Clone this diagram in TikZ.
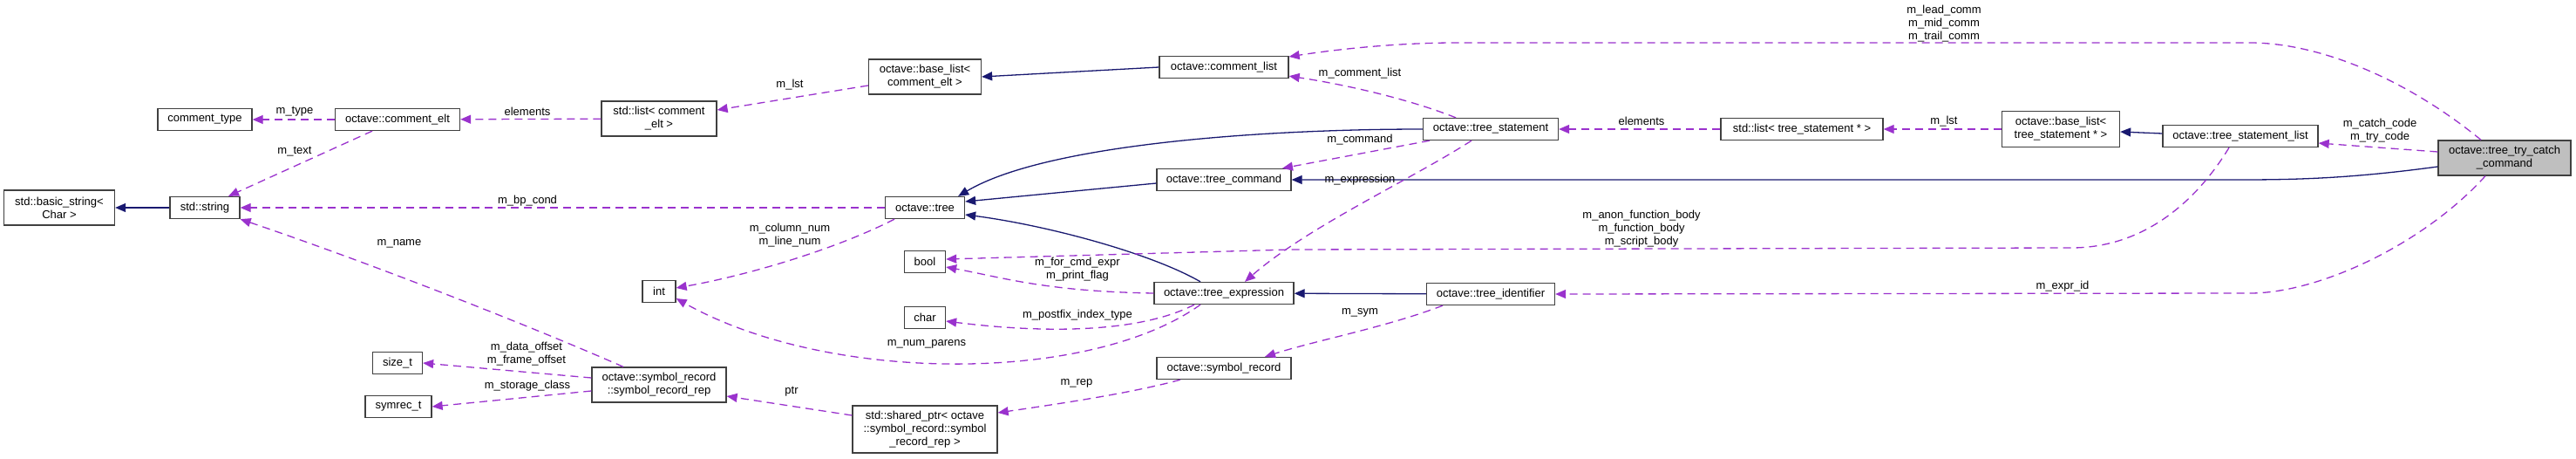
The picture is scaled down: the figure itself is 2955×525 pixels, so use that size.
\documentclass[tikz,border=0pt]{standalone}
\usepackage{fontspec}
\setmainfont{Liberation Sans}
\usetikzlibrary{arrows.meta}
\definecolor{inhcol}{RGB}{25,25,112}
\definecolor{memcol}{RGB}{154,50,205}
\tikzset{
  cls/.style={draw=black!75, line width=1.3pt, fill=white, align=center, inner sep=0pt, minimum height=25pt},
  clsfocus/.style={cls, fill=black!25},
  inh/.style={draw=inhcol, line width=1.3pt, -{Triangle[length=12pt,width=10pt]}},
  mem/.style={draw=memcol, line width=1.3pt, dash pattern=on 9pt off 6pt, -{Triangle[length=12pt,width=10pt]}},
  lbl/.style={inner sep=0pt, align=center, text=black}
}
\begin{document}
\begin{tikzpicture}[x=1pt,y=-1pt,font=\fontsize{13}{15}\selectfont]
\useasboundingbox (0,0) rectangle (2955,525);

\node[cls, minimum width=127pt, minimum height=40pt] (bstr) at (68,238) {std::basic\_string<\\Char >};
\node[cls, minimum width=80pt] (stdstr) at (235,238) {std::string};
\node[cls, minimum width=108pt] (ctype) at (235,137) {comment\_type};
\node[cls, minimum width=143pt] (celt) at (456,137) {octave::comment\_elt};
\node[cls, minimum width=57pt] (sizet) at (456,416) {size\_t};
\node[cls, minimum width=76pt] (symrec) at (457,466) {symrec\_t};
\node[cls, minimum width=154pt, minimum height=40pt] (rep) at (756,441) {octave::symbol\_record\\::symbol\_record\_rep};
\node[cls, minimum width=132pt, minimum height=40pt] (lstce) at (756,136) {std::list< comment\\\_elt >};
\node[cls, minimum width=38pt] (intn) at (756,334) {int};
\node[cls, minimum width=129pt, minimum height=40pt] (blce) at (1061,88) {octave::base\_list<\\comment\_elt >};
\node[cls, minimum width=91pt] (tree) at (1061,238) {octave::tree};
\node[cls, minimum width=47pt] (booln) at (1061,300) {bool};
\node[cls, minimum width=47pt] (charn) at (1061,364) {char};
\node[cls, minimum width=166pt, minimum height=54pt] (sptr) at (1061,492) {std::shared\_ptr< octave\\::symbol\_record::symbol\\\_record\_rep >};
\node[cls, minimum width=148pt] (clist) at (1404,77) {octave::comment\_list};
\node[cls, minimum width=154pt] (tcmd) at (1404,206) {octave::tree\_command};
\node[cls, minimum width=160pt] (texpr) at (1404,336) {octave::tree\_expression};
\node[cls, minimum width=154pt] (symrecd) at (1404,422) {octave::symbol\_record};
\node[cls, minimum width=155pt] (tstmt) at (1710,148) {octave::tree\_statement};
\node[cls, minimum width=147pt] (tident) at (1710,337) {octave::tree\_identifier};
\node[cls, minimum width=186pt] (lstts) at (2067,148) {std::list< tree\_statement * >};
\node[cls, minimum width=135pt, minimum height=41pt] (blts) at (2364,148) {octave::base\_list<\\tree\_statement * >};
\node[cls, minimum width=178pt] (tsl) at (2570,156) {octave::tree\_statement\_list};
\node[clsfocus, minimum width=152pt, minimum height=40pt] (trycatch) at (2873,181) {octave::tree\_try\_catch\\\_command};

\draw[inh] (stdstr) -- (bstr);
\draw[inh] (clist.west) -- (blce.east);
\draw[inh] (tstmt.west) .. controls (1450,148) and (1200,165) .. ([xshift=-8pt]tree.north east);
\draw[inh] ([yshift=-4pt]tcmd.west) -- ([yshift=7pt]tree.east);
\draw[inh] ([xshift=-27pt]texpr.north) .. controls (1320,290) and (1200,258) .. ([yshift=-8pt]tree.east);
\draw[inh] (tident) -- (texpr);
\draw[inh] ([yshift=3pt]tsl.west) -- ([yshift=-3pt]blts.east);
\draw[inh] ([yshift=-10pt]trycatch.west) .. controls (2700,204) and (2640,206) .. (2570,206) -- (tcmd.east);

\draw[mem] (celt) -- (ctype) node[lbl] (l-type) at (338,128) {m\_type};
\draw[mem] (lstce) -- (celt) node[lbl] (l-elce) at (605,128) {elements};
\draw[mem] ([yshift=-10pt]blce.west) -- ([yshift=10pt]lstce.east) node[lbl] (l-lstce) at (906,97) {m\_lst};
\draw[mem] ([xshift=-29pt]celt.south) -- ([xshift=27pt]stdstr.north) node[lbl] (l-text) at (338,174) {m\_text};
\draw[mem] (tree) -- (stdstr) node[lbl] (l-bp) at (605,230) {m\_bp\_cond};
\draw[mem] ([xshift=-41pt]rep.north) .. controls (600,370) and (420,300) .. (stdstr.south east) node[lbl] (l-name) at (458,279) {m\_name};
\draw[mem] ([yshift=8pt]rep.west) -- (sizet.east) node[lbl] (l-off) at (604,406) {m\_data\_offset\\m\_frame\_offset};
\draw[mem] ([yshift=-7pt]rep.west) -- (symrec.east) node[lbl] (l-stor) at (605,442) {m\_storage\_class};
\draw[mem] ([yshift=16pt]sptr.west) -- ([yshift=-13pt]rep.east) node[lbl] (l-ptr) at (908,449) {ptr};
\draw[mem] ([xshift=-50pt]symrecd.south) .. controls (1300,450) and (1220,462) .. ([yshift=19pt]sptr.east) node[lbl] (l-rep) at (1235,439) {m\_rep};
\draw[mem] ([xshift=-55pt]tident.south) .. controls (1590,375) and (1510,390) .. ([xshift=47pt]symrecd.north) node[lbl] (l-sym) at (1560,358) {m\_sym};
\draw[mem] ([xshift=-35pt]tree.south) .. controls (960,285) and (860,315) .. ([yshift=4pt]intn.east) node[lbl] (l-num) at (906,270) {m\_column\_num\\m\_line\_num};
\draw[mem] ([xshift=-27pt]texpr.south) .. controls (1250,440) and (950,440) .. ([yshift=-8pt]intn.east) node[lbl] (l-par) at (1063,394) {m\_num\_parens};
\draw[mem] (texpr.west) .. controls (1200,334) and (1150,318) .. ([yshift=-6pt]booln.east) node[lbl] (l-flag) at (1236,309) {m\_for\_cmd\_expr\\m\_print\_flag};
\draw[mem] ([xshift=-34pt]texpr.south) .. controls (1300,385) and (1180,380) .. ([yshift=-4pt]charn.east) node[lbl] (l-pfx) at (1236,361) {m\_postfix\_index\_type};
\draw[mem] ([xshift=-13pt]tsl.south) .. controls (2520,230) and (2460,284) .. (2376,284) -- (1480,286) -- ([yshift=3pt]booln.east) node[lbl] (l-body) at (1883,262) {m\_anon\_function\_body\\m\_function\_body\\m\_script\_body};
\draw[mem] ([xshift=-40pt]tstmt.north) .. controls (1620,115) and (1550,98) .. ([yshift=3pt]clist.south east) node[lbl] (l-cl) at (1560,84) {m\_comment\_list};
\draw[mem] ([xshift=-70pt]tstmt.south) -- ([xshift=67pt]tcmd.north) node[lbl] (l-cmd) at (1560,160) {m\_command};
\draw[mem] ([xshift=-22pt]tstmt.south) .. controls (1620,205) and (1500,260) .. ([xshift=24pt]texpr.north) node[lbl] (l-expr) at (1560,206) {m\_expression};
\draw[mem] (lstts) -- (tstmt) node[lbl] (l-elts) at (1883,139) {elements};
\draw[mem] (blts) -- (lstts) node[lbl] (l-lstts) at (2230,139) {m\_lst};
\draw[mem] ([xshift=-27pt]trycatch.north) .. controls (2760,90) and (2660,49) .. (2581,49) -- (1670,49) .. controls (1600,49) and (1530,57) .. ([yshift=12pt]clist.east) node[lbl] (l-comm) at (2230,27) {m\_lead\_comm\\m\_mid\_comm\\m\_trail\_comm};
\draw[mem] ([yshift=7pt]trycatch.west) -- ([yshift=-8pt]tsl.east) node[lbl] (l-code) at (2730,150) {m\_catch\_code\\m\_try\_code};
\draw[mem] ([xshift=-22pt]trycatch.south) .. controls (2780,280) and (2660,336) .. (2581,336) -- (tident.east) node[lbl] (l-id) at (2366,328) {m\_expr\_id};
\end{tikzpicture}
\end{document}
